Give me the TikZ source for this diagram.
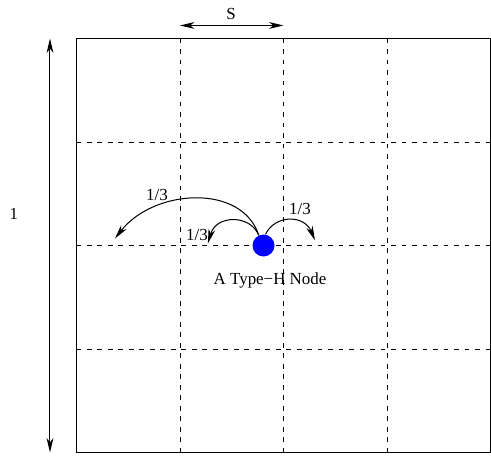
\documentclass[tikz,border=0pt]{standalone}
\usepackage{fontspec}
\setmainfont{Liberation Serif}
\usetikzlibrary{arrows.meta}
\begin{document}
\begin{tikzpicture}[x=2.15cm,y=2.15cm,>={Stealth[length=8.5pt,width=4pt,inset=2.5pt]},
 grid/.style={dash pattern=on 2.8pt off 3.4pt,line width=.5pt},
 lab/.style={inner sep=1pt,font=\fontsize{10}{12}\selectfont},
 hop/.style={->,line width=.6pt}]
\useasboundingbox (-0.739,-0.039) rectangle (4.005,4.372);
% unit square cut into 4x4 cells of side S
\draw[line width=.8pt] (0,0) rectangle (4,4);
\foreach \i in {1,2,3} {
 \draw[grid] (\i,0) -- (\i,4);
 \draw[grid] (0,\i) -- (4,\i);
}
% side length and cell size
\coordinate (lbot) at (-0.256,0);
\coordinate (ltop) at (-0.256,4);
\draw[<->,line width=.6pt] (lbot) -- (ltop);
\node[lab] (one) at (-0.604,2.31) {1};
\coordinate (sl) at (1,4.126);
\coordinate (sr) at (2,4.126);
\draw[<->,line width=.6pt] (sl) -- (sr);
\node[lab] (s) at (1.493,4.235) {S};
% the node and its three hops
\node[circle,fill=blue,inner sep=0pt,minimum size=13pt] (h) at (1.807,2) {};
\node[lab] (hname) at (1.87,1.662) {A Type−H Node};
\coordinate (far) at (0.372,2.068);
\coordinate (near) at (1.27,2.02);
\coordinate (right) at (2.304,2.05);
\draw[hop] (h.115) .. controls (1.6,2.6) and (0.75,2.55) .. (far);
\draw[hop] (h.115) .. controls (1.68,2.3) and (1.35,2.3) .. (near);
\draw[hop] (h.80) .. controls (1.92,2.3) and (2.2,2.3) .. (right);
\node[lab] (pfar) at (0.778,2.49) {1/3};
\node[lab] (pnear) at (1.164,2.106) {1/3};
\node[lab] (pright) at (2.159,2.357) {1/3};
\end{tikzpicture}
\end{document}
